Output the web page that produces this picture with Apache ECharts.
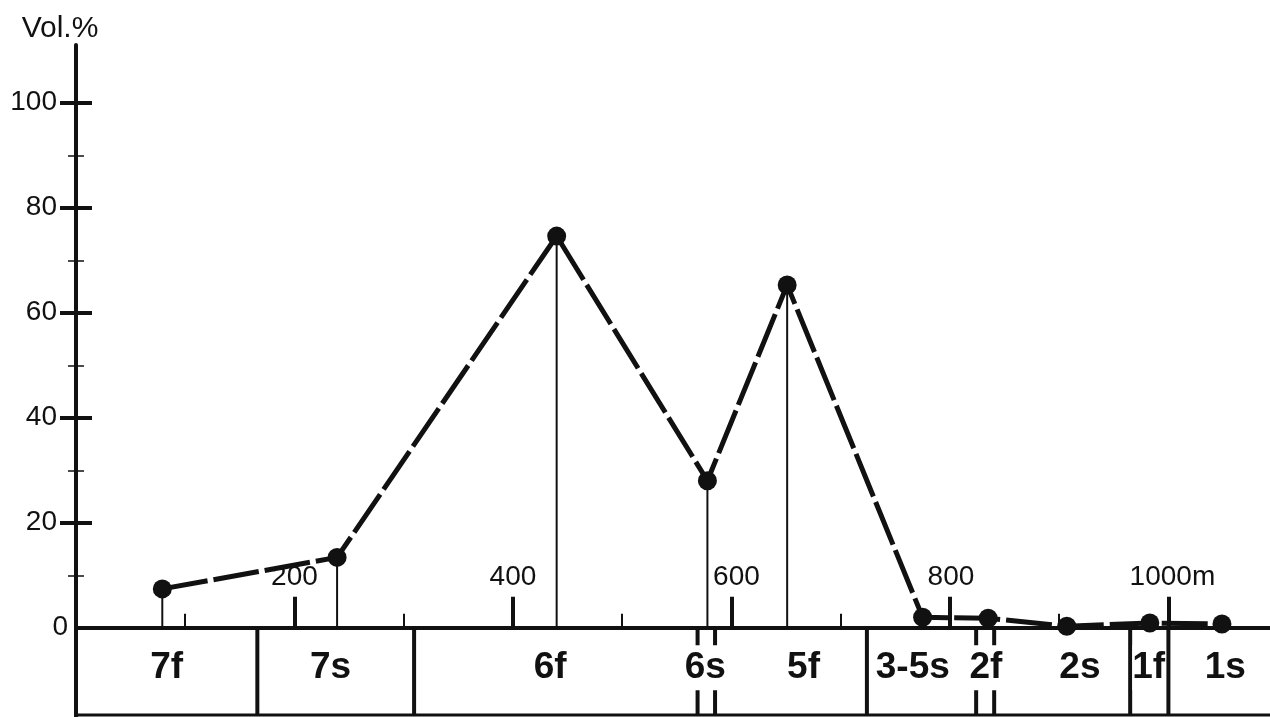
<!DOCTYPE html>
<html>
<head>
<meta charset="utf-8">
<title>Vol.% profile</title>
<script src="https://cdn.jsdelivr.net/npm/echarts@6/dist/echarts.min.js"></script>
<style>
  html, body { margin: 0; padding: 0; background: #fff; }
  #chart { width: 1270px; height: 717px; }
</style>
</head>
<body>
<div id="chart"></div>
<script>
// distance along profile (m) and volume percentage
var distance = [79, 239, 440, 578, 651, 775, 835, 907, 983, 1049]
var volume = [7.4, 13.4, 74.6, 28.0, 65.3, 2.0, 1.8, 0.3, 0.9, 0.7]

// x axis ticks
var xMajorTicks = [200, 400, 600, 800, 1000]
var xMinorTicks = [100, 300, 500, 700, 900]
var xTickLabels = ['200', '400', '600', '800', '1000m']

// y axis ticks
var yMajorTicks = [20, 40, 60, 80, 100]
var yMinorTicks = [10, 30, 50, 70, 90]
var yLabelValues = [0, 20, 40, 60, 80, 100]

// zones under the axis
var zoneDividers = [166, 309.5, 569, 585, 724, 824, 840.5, 965, 1000]
var zoneNames = ['7f', '7s', '6f', '6s', '5f', '3-5s', '2f', '2s', '1f', '1s']
var zoneCenters = [83, 233, 434, 576, 666, 766, 833, 919, 982, 1052]
var zoneBottom = -16.6
var zoneLabelY = -7.6
var xMax = 1093

var FONT = '"Liberation Sans", Arial, sans-serif'
var chart = echarts.init(document.getElementById('chart'))

var hiddenAxisBits = { show: false }

chart.setOption({
  animation: false,
  backgroundColor: '#fff',
  grid: { left: 76, right: 0, top: 45, bottom: 0 },
  xAxis: [{
    type: 'value',
    min: 0,
    max: xMax,
    position: 'bottom',
    splitLine: hiddenAxisBits,
    axisLabel: hiddenAxisBits,
    axisLine: { show: true, onZero: true, lineStyle: { color: '#111', width: 4 } },
    axisTick: {
      show: true,
      inside: true,
      length: 31,
      customValues: xMajorTicks,
      lineStyle: { color: '#111', width: 4 }
    }
  }, {
    type: 'value',
    min: 0,
    max: xMax,
    position: 'bottom',
    splitLine: hiddenAxisBits,
    axisLine: { show: false, onZero: true },
    axisLabel: hiddenAxisBits,
    axisTick: {
      show: true,
      inside: true,
      length: 14,
      customValues: xMinorTicks,
      lineStyle: { color: '#111', width: 2 }
    }
  }],
  yAxis: [{
    type: 'value',
    min: -17,
    max: 111,
    position: 'left',
    name: 'Vol.%',
    nameLocation: 'end',
    nameGap: 1,
    nameTextStyle: {
      color: '#111',
      fontFamily: FONT,
      fontSize: 30,
      align: 'center',
      verticalAlign: 'bottom',
      padding: [0, 32, 0, 0]
    },
    splitLine: hiddenAxisBits,
    axisLine: { show: true, lineStyle: { color: '#111', width: 4 } },
    axisTick: {
      show: true,
      length: 16,
      customValues: yMajorTicks,
      lineStyle: { color: '#111', width: 4 }
    },
    axisLabel: {
      show: true,
      margin: 8,
      customValues: yLabelValues,
      color: '#111',
      fontFamily: FONT,
      fontSize: 28,
      formatter: function (v) {
        return v === 0 ? '{z|0}' : '{n|' + v + '}'
      },
      rich: {
        z: { fontFamily: FONT, fontSize: 28, color: '#111' },
        n: { fontFamily: FONT, fontSize: 28, color: '#111', padding: [0, 11, 0, 0] }
      }
    }
  }, {
    type: 'value',
    min: -17,
    max: 111,
    position: 'left',
    splitLine: hiddenAxisBits,
    axisLine: { show: false },
    axisLabel: hiddenAxisBits,
    axisTick: {
      show: true,
      inside: true,
      length: 16,
      customValues: yMajorTicks,
      lineStyle: { color: '#111', width: 4 }
    }
  }, {
    type: 'value',
    min: -17,
    max: 111,
    position: 'left',
    splitLine: hiddenAxisBits,
    axisLine: { show: false },
    axisLabel: hiddenAxisBits,
    axisTick: {
      show: true,
      length: 8,
      customValues: yMinorTicks,
      lineStyle: { color: '#111', width: 1.5 }
    }
  }, {
    type: 'value',
    min: -17,
    max: 111,
    position: 'left',
    splitLine: hiddenAxisBits,
    axisLine: { show: false },
    axisLabel: hiddenAxisBits,
    axisTick: {
      show: true,
      inside: true,
      length: 8,
      customValues: yMinorTicks,
      lineStyle: { color: '#111', width: 1.5 }
    }
  }],
  series: [{
    // thin drop lines from each point to the axis
    name: 'drop',
    type: 'bar',
    barWidth: 2,
    itemStyle: { color: '#111' },
    data: distance.map(function (d, i) { return [d, volume[i]] }),
    z: 2
  }, {
    name: 'Vol.%',
    type: 'line',
    symbol: 'circle',
    symbolSize: 19,
    itemStyle: { color: '#111' },
    lineStyle: { color: '#111', width: 5, type: [46, 6] },
    data: distance.map(function (d, i) { return [d, volume[i]] }),
    z: 5
  }, {
    // distance labels sit above the axis line
    name: 'xLabels',
    type: 'custom',
    data: xMajorTicks.map(function (v) { return [v, 0] }),
    renderItem: function (params, api) {
      var p = api.coord([api.value(0), api.value(1)])
      var nudge = [0, 0, 5, 1, 4][params.dataIndex]
      return {
        type: 'text',
        x: p[0] + nudge,
        y: p[1] - 50,
        style: {
          text: xTickLabels[params.dataIndex],
          fill: '#111',
          font: '28px ' + FONT,
          align: 'center',
          verticalAlign: 'middle'
        }
      }
    },
    z: 4
  }, {
    // bottom edge of the zone strip
    name: 'zoneBase',
    type: 'line',
    symbol: 'none',
    lineStyle: { color: '#111', width: 3 },
    data: [[0, zoneBottom], [xMax, zoneBottom]],
    z: 3
  }, {
    name: 'dividers',
    type: 'custom',
    data: zoneDividers.map(function (d) { return [d] }),
    renderItem: function (params, api) {
      var p0 = api.coord([api.value(0), 0])
      var p1 = api.coord([api.value(0), zoneBottom])
      return {
        type: 'line',
        shape: { x1: p0[0], y1: p0[1], x2: p1[0], y2: p1[1] },
        style: { stroke: '#111', lineWidth: 4 }
      }
    },
    z: 3
  }, {
    name: 'zones',
    type: 'custom',
    data: zoneCenters.map(function (c) { return [c, zoneLabelY] }),
    renderItem: function (params, api) {
      var p = api.coord([api.value(0), api.value(1)])
      return {
        type: 'text',
        x: p[0],
        y: p[1],
        style: {
          text: zoneNames[params.dataIndex],
          fill: '#111',
          font: 'bold 37px ' + FONT,
          align: 'center',
          verticalAlign: 'middle',
          backgroundColor: '#fff',
          padding: [4, 0]
        }
      }
    },
    z: 4
  }]
})
</script>
</body>
</html>
